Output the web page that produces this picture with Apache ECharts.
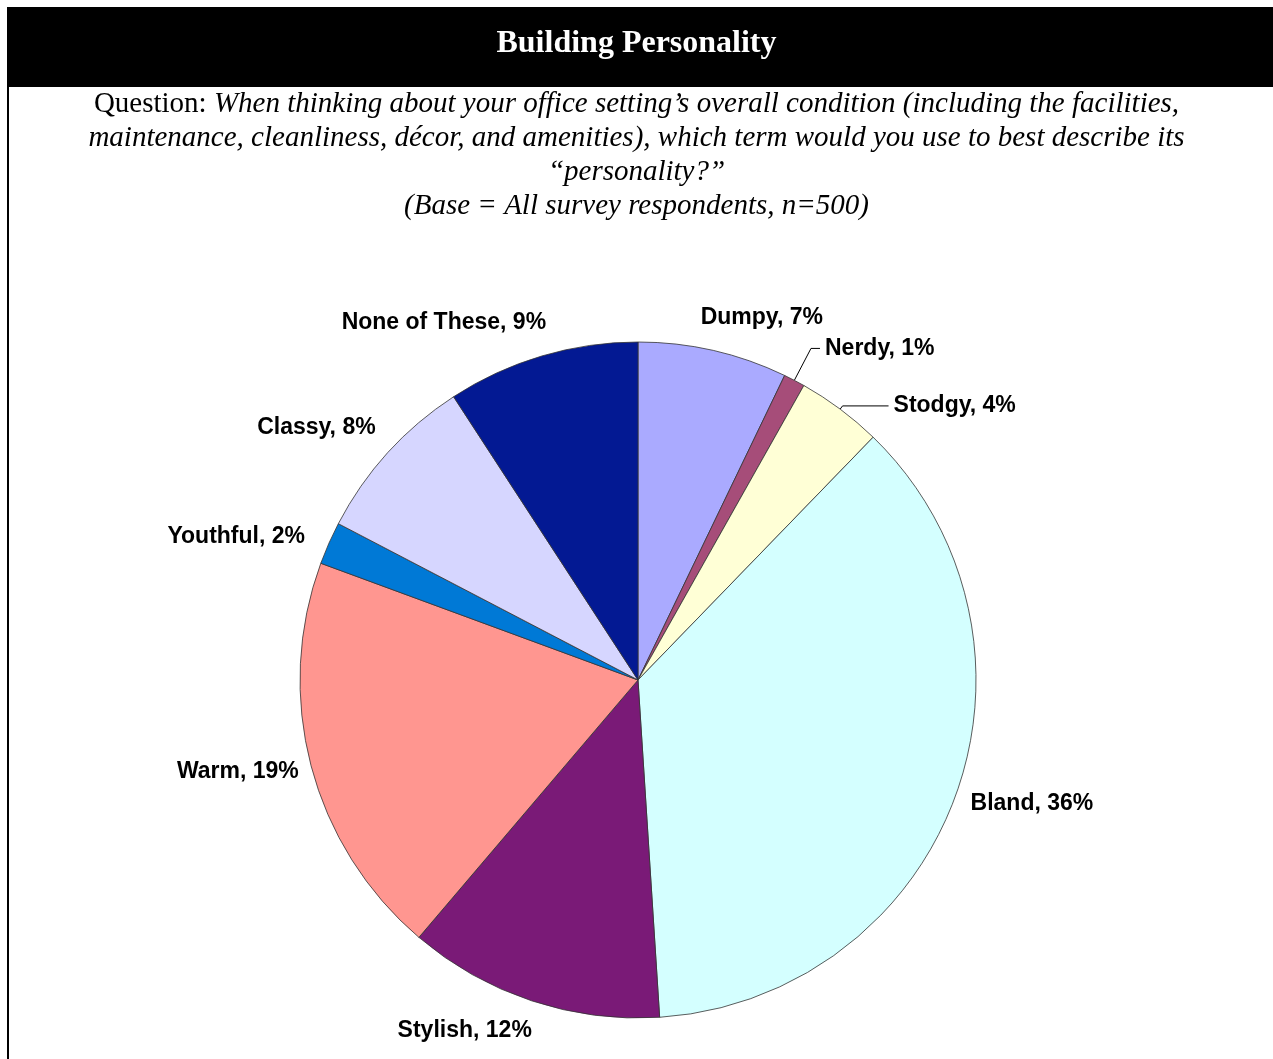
<!DOCTYPE html>
<html>
<head>
<meta charset="utf-8">
<title>Building Personality</title>
<script src="https://cdn.jsdelivr.net/npm/echarts@6/dist/echarts.min.js"></script>
<style>
  html, body { margin: 0; padding: 0; background: #fff; }
  #chart { width: 1273px; height: 1059px; }
</style>
</head>
<body>
<div id="chart"></div>
<script>
// slices clockwise from 12 o'clock
var categories = ['Dumpy', 'Nerdy', 'Stodgy', 'Bland', 'Stylish', 'Warm', 'Youthful', 'Classy', 'None of These']
var values = [7, 1, 4, 36, 12, 19, 2, 8, 9]
var colors = ['#aaaaff', '#a64d79', '#ffffd6', '#d4ffff', '#7a1a77', '#ff9690', '#0079d6', '#d6d6ff', '#031993']

// label placement, Excel style: only Nerdy and Stodgy have leader lines
var labelPlace = {
  'Dumpy': { line: false, len: 34, len2: 36 },
  'Nerdy': { line: true, len: 36, len2: 9 },
  'Stodgy': { line: true, len: 4, len2: 46 },
  'Bland': { line: false, len: 21, len2: 52 },
  'Stylish': { line: false, len: 31, len2: 52 },
  'Warm': { line: false, len: 24, len2: 45 },
  'Youthful': { line: false, len: 15, len2: 74 },
  'Classy': { line: false, len: 37, len2: 39 },
  'None of These': { line: false, len: 35, len2: 83 }
}

var pieData = categories.map(function(name, i) {
  var p = labelPlace[name]
  return {
    name: name,
    value: values[i],
    itemStyle: { color: colors[i] },
    labelLine: { show: p.line, length: p.len, length2: p.len2 }
  }
})

var chart = echarts.init(document.getElementById('chart'), null, { renderer: 'canvas' })
chart.setOption({
  animation: false,
  backgroundColor: '#fff',
  graphic: [
    // black title bar
    { type: 'rect', left: 7, top: 7, shape: { width: 1266, height: 80 }, style: { fill: '#000' }, z: 0 },
    // left frame line
    { type: 'rect', left: 7, top: 87, shape: { width: 2, height: 972 }, style: { fill: '#000' }, z: 0 }
  ],
  title: [
    {
      text: 'Building Personality',
      left: 'center',
      top: 23,
      padding: 0,
      textStyle: {
        color: '#fff',
        fontFamily: 'Liberation Serif, Times New Roman, serif',
        fontWeight: 'bold',
        fontSize: 32,
        lineHeight: 42
      }
    },
    {
      text: '{q|Question: }{i|When thinking about your office setting\u2019s overall condition (including the facilities,}\n' +
        '{i|maintenance, cleanliness, d\u00e9cor, and amenities), which term would you use to best describe its}\n' +
        '{i|\u201cpersonality?\u201d}\n' +
        '{i|(Base = All survey respondents, n=500)}',
      left: 'center',
      top: 87,
      padding: 0,
      textStyle: {
        fontWeight: 'normal',
        rich: {
          q: { fontFamily: 'Liberation Serif, serif', fontWeight: 'normal', fontSize: 29, color: '#000', lineHeight: 34 },
          i: { fontFamily: 'Liberation Serif, serif', fontWeight: 'normal', fontStyle: 'italic', fontSize: 29, color: '#000', lineHeight: 34 }
        }
      }
    }
  ],
  series: [
    {
      type: 'pie',
      center: [638, 680],
      radius: 338,
      startAngle: 90,
      clockwise: true,
      avoidLabelOverlap: false,
      emphasis: { scale: false },
      data: pieData,
      itemStyle: { borderColor: '#333', borderWidth: 0.8 },
      label: {
        show: true,
        position: 'outside',
        formatter: '{b}, {c}%',
        color: '#000',
        fontFamily: 'Liberation Sans, Arial, sans-serif',
        fontWeight: 'bold',
        fontSize: 23,
        distanceToLabelLine: 5
      },
      labelLine: { lineStyle: { color: '#000', width: 1 } },
      labelLayout: function(params) {
        var p = labelPlace[categories[params.dataIndex]]
        return p.line ? {} : { align: 'center' }
      }
    }
  ]
})
</script>
</body>
</html>
